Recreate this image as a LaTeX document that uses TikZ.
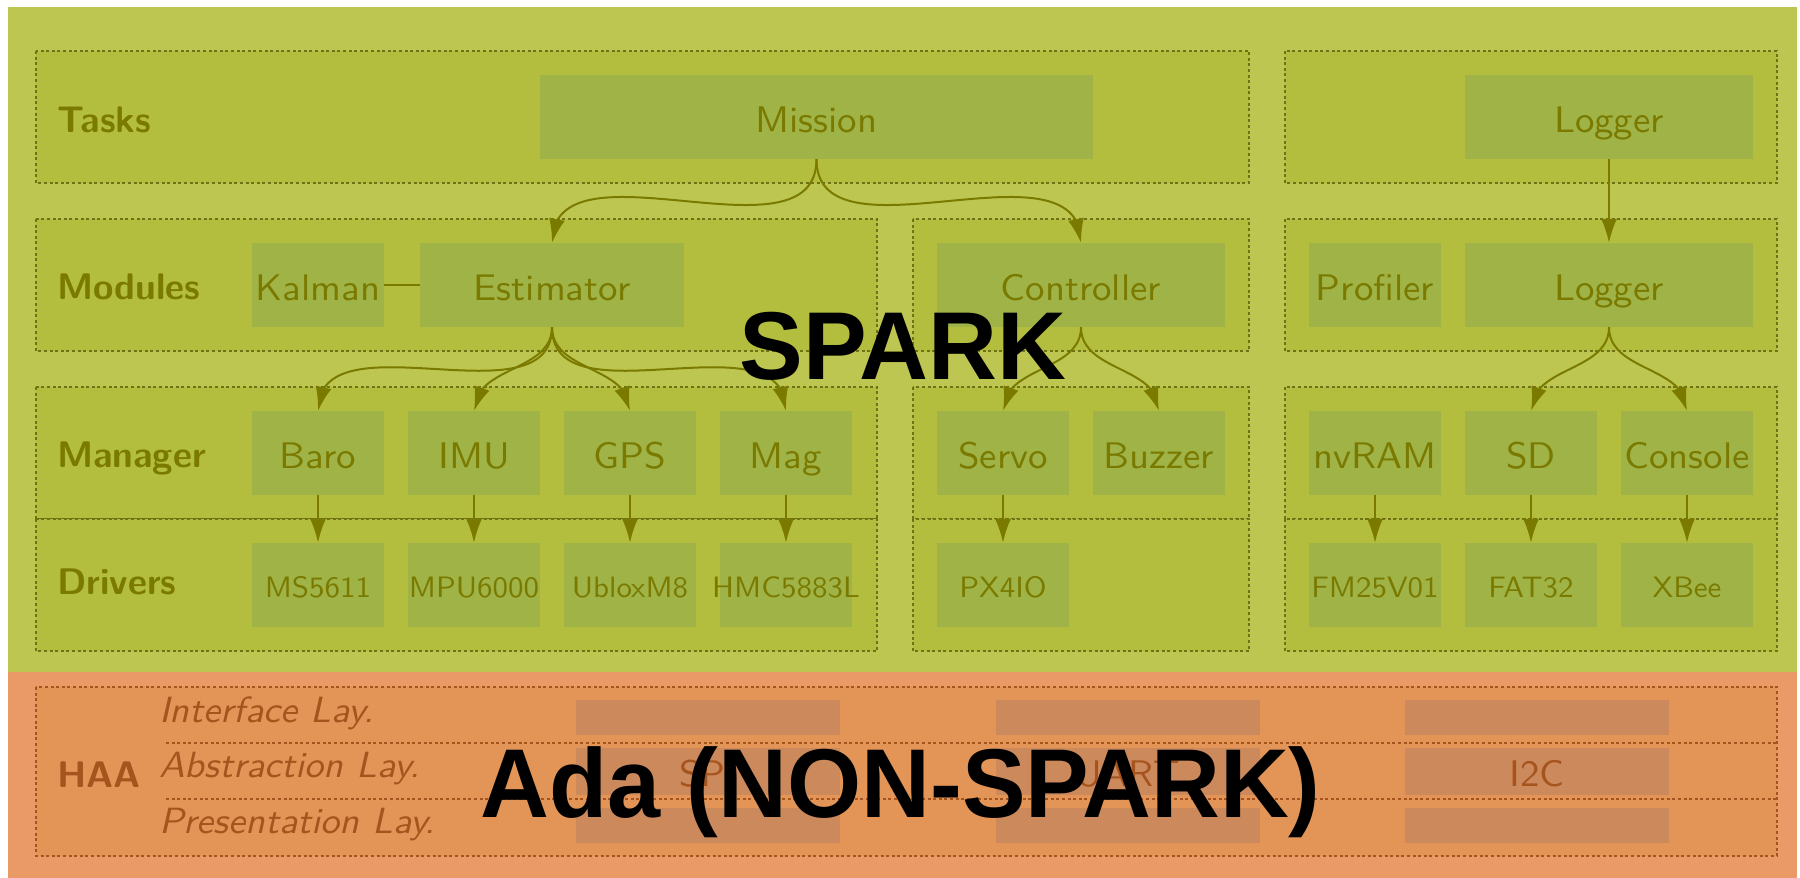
\documentclass[tikz,border=0pt]{standalone}
\usepackage{fontspec}
\usepackage{graphicx}
\newfontfamily\bannerfont{Liberation Sans}
\newfontfamily\widesans[FakeStretch=1.05]{lmsans10-regular.otf}
\newfontfamily\wideoblique[FakeStretch=1.05]{lmsans10-oblique.otf}
\usetikzlibrary{arrows.meta,bending}

\definecolor{sparkbg}{RGB}{190,198,82}
\definecolor{sparkbox}{RGB}{180,190,62}
\definecolor{sparknode}{RGB}{159,179,71}
\definecolor{sparkink}{RGB}{122,122,0}
\definecolor{sparkdash}{RGB}{112,114,22}
\definecolor{adabg}{RGB}{234,154,102}
\definecolor{adabox}{RGB}{226,149,87}
\definecolor{adanode}{RGB}{204,137,92}
\definecolor{adaink}{RGB}{165,84,30}

\begin{document}
\begin{tikzpicture}[x=1pt,y=-1pt,
  layer/.style={draw=sparkdash, fill=sparkbox, line width=1.5pt, dash pattern=on 3pt off 2.6pt},
  haalayer/.style={draw=adaink, fill=adabox, line width=1.5pt, dash pattern=on 3pt off 2.6pt},
  haasep/.style={draw=adaink, line width=1.5pt, dash pattern=on 3pt off 2.6pt},
  unit/.style={fill=sparknode, text=sparkink, inner sep=0pt, minimum height=84pt,
    minimum width=#1, font=\widesans\fontsize{37}{40}\selectfont,
    text height=32pt, text depth=2pt},
  unit/.default=132pt,
  drv/.style={unit, font=\widesans\fontsize{29.5}{34}\selectfont,
    text height=26pt, text depth=2pt},
  haaunit/.style={fill=adanode, text=adaink, inner sep=0pt, minimum width=264pt,
    minimum height=#1, font=\widesans\fontsize{37}{40}\selectfont,
    text height=32pt, text depth=2pt},
  rowlabel/.style={anchor=base west, inner sep=0pt, text=sparkink,
    font=\sffamily\bfseries\fontsize{37}{40}\selectfont},
  haalabel/.style={anchor=base west, inner sep=0pt, text=adaink,
    font=\wideoblique\fontsize{36.5}{40}\selectfont},
  conn/.style={draw=sparkink, line width=2pt, -{Latex[length=24pt,width=16pt]}},
  link/.style={draw=sparkink, line width=2pt},
  banner/.style={anchor=base, inner sep=0pt, text=black,
    font=\bannerfont\bfseries},
]
\useasboundingbox (0,0) rectangle (1800,878);

% backgrounds of the two worlds
\fill[sparkbg] (8,7) rectangle (1797,672);
\fill[adabg] (8,672) rectangle (1797,878);

% layer frames
\draw[layer] (36,51) rectangle (1249,183);
\draw[layer] (1285,51) rectangle (1777,183);
\draw[layer] (36,219) rectangle (877,351);
\draw[layer] (913,219) rectangle (1249,351);
\draw[layer] (1285,219) rectangle (1777,351);
\draw[layer] (36,387) rectangle (877,519);
\draw[layer] (36,519) rectangle (877,651);
\draw[layer] (913,387) rectangle (1249,519);
\draw[layer] (913,519) rectangle (1249,651);
\draw[layer] (1285,387) rectangle (1777,519);
\draw[layer] (1285,519) rectangle (1777,651);
\draw[haalayer] (36,687) rectangle (1777,856);
\draw[haasep] (166,743) -- (1777,743);
\draw[haasep] (166,799) -- (1777,799);

% row labels
\node[rowlabel] (lTasks) at (57,132) {Tasks};
\node[rowlabel] (lModules) at (57,299) {Modules};
\node[rowlabel] (lManager) at (57,467) {Manager};
\node[rowlabel] (lDrivers) at (57,594) {Drivers};
\node[rowlabel, text=adaink] (lHAA) at (57,787) {HAA};
\node[haalabel] (lIface) at (159,722) {Interface Lay.};
\node[haalabel] (lAbstr) at (159,777) {Abstraction Lay.};
\node[haalabel] (lPres) at (159,833) {Presentation Lay.};

% tasks
\node[unit=553pt] (mission) at (816.5,117) {Mission};
\node[unit=288pt] (loggerT) at (1609,117) {Logger};

% modules
\node[unit] (kalman) at (318,285) {Kalman};
\node[unit=264pt] (est) at (552,285) {Estimator};
\node[unit=288pt] (ctrl) at (1081,285) {Controller};
\node[unit] (profiler) at (1375,285) {Profiler};
\node[unit=288pt] (loggerM) at (1609,285) {Logger};

% managers
\node[unit] (baro) at (318,453) {Baro};
\node[unit] (imu) at (474,453) {IMU};
\node[unit] (gps) at (630,453) {GPS};
\node[unit] (mag) at (786,453) {Mag};
\node[unit] (servo) at (1003,453) {Servo};
\node[unit] (buzzer) at (1159,453) {Buzzer};
\node[unit] (nvram) at (1375,453) {nvRAM};
\node[unit] (sd) at (1531,453) {SD};
\node[unit] (console) at (1687,453) {\makebox[0pt]{Console}};

% drivers
\node[drv] (ms) at (318,585) {MS5611};
\node[drv] (mpu) at (474,585) {\makebox[0pt]{MPU6000}};
\node[drv] (ublox) at (630,585) {UbloxM8};
\node[drv] (hmc) at (786,585) {\makebox[0pt]{HMC5883L}};
\node[drv] (px) at (1003,585) {PX4IO};
\node[drv] (fm) at (1375,585) {\makebox[0pt]{FM25V01}};
\node[drv] (fat) at (1531,585) {FAT32};
\node[drv] (xbee) at (1687,585) {XBee};

% hardware abstraction layer
\node[haaunit=35pt] (spiI) at (708,717.5) {};
\node[haaunit=47pt] (spiA) at (708,771.5) {SPI};
\node[haaunit=35pt] (spiP) at (708,825.5) {};
\node[haaunit=35pt] (uartI) at (1128,717.5) {};
\node[haaunit=47pt] (uartA) at (1128,771.5) {UART};
\node[haaunit=35pt] (uartP) at (1128,825.5) {};
\node[haaunit=35pt] (i2cI) at (1537,717.5) {};
\node[haaunit=47pt] (i2cA) at (1537,771.5) {I2C};
\node[haaunit=35pt] (i2cP) at (1537,825.5) {};

% connections
\draw[link] (kalman.east) -- (est.west);
\draw[conn] (mission.south) .. controls +(0,108.6) and +(0,-108.6) .. (est.north);
\draw[conn] (mission.south) .. controls +(0,108.6) and +(0,-108.6) .. (ctrl.north);
\draw[conn] (loggerT.south) -- (loggerM.north);
\draw[conn] (est.south) .. controls +(0,97.3) and +(0,-97.3) .. (baro.north);
\draw[conn] (est.south) .. controls +(0,44.9) and +(0,-44.9) .. (imu.north);
\draw[conn] (est.south) .. controls +(0,44.9) and +(0,-44.9) .. (gps.north);
\draw[conn] (est.south) .. controls +(0,97.3) and +(0,-97.3) .. (mag.north);
\draw[conn] (ctrl.south) .. controls +(0,44.9) and +(0,-44.9) .. (servo.north);
\draw[conn] (ctrl.south) .. controls +(0,44.9) and +(0,-44.9) .. (buzzer.north);
\draw[conn] (loggerM.south) .. controls +(0,44.9) and +(0,-44.9) .. (sd.north);
\draw[conn] (loggerM.south) .. controls +(0,44.9) and +(0,-44.9) .. (console.north);
\draw[conn] (baro.south) -- (ms.north);
\draw[conn] (imu.south) -- (mpu.north);
\draw[conn] (gps.south) -- (ublox.north);
\draw[conn] (mag.south) -- (hmc.north);
\draw[conn] (servo.south) -- (px.north);
\draw[conn] (nvram.south) -- (fm.north);
\draw[conn] (sd.south) -- (fat.north);
\draw[conn] (console.south) -- (xbee.north);

% banners
\node[banner, font=\bannerfont\bfseries\fontsize{96.4}{100}\selectfont] (spark) at (903,379) {\scalebox{0.99}[1]{SPARK}};
\node[banner, font=\bannerfont\bfseries\fontsize{97.8}{100}\selectfont] (ada) at (900.5,817) {\scalebox{0.975}[1]{Ada (NON-SPARK)}};
\end{tikzpicture}
\end{document}
